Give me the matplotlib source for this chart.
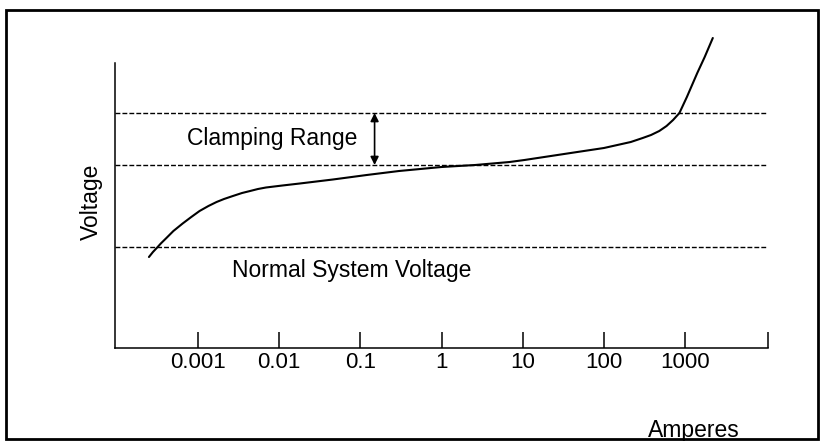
import matplotlib
matplotlib.use("Agg")
import matplotlib.pyplot as plt
from matplotlib.patches import Rectangle

# ---- data ----
amperes = [0.00025, 0.00028, 0.00032, 0.00035, 0.00041, 0.00050, 0.00065, 0.00083,
           0.00105, 0.00135, 0.0017, 0.0021, 0.0027, 0.0035, 0.0044, 0.0055,
           0.0069, 0.011, 0.018, 0.046, 0.12, 0.30, 1.0, 2.6, 6.9, 10.5, 47,
           100, 214, 300, 380, 480, 590, 710, 850, 1050, 1410, 1740, 2190]
voltage = [91, 96, 101, 104.5, 110, 117, 124.5, 131,
           137, 142, 146, 149, 152, 155, 157, 159,
           160.5, 162.5, 164.5, 168.5, 173, 177, 181, 183, 186, 188, 196,
           200, 206, 210, 213, 217, 222, 228, 235, 251, 275, 291, 310]
normal_level = 101
clamp_low = 183
clamp_high = 235
tick_values = [0.001, 0.01, 0.1, 1, 10, 100, 1000]
tick_labels = ["0.001", "0.01", "0.1", "1", "10", "100", "1000"]
x_min, x_max = 10 ** -4.02, 10 ** 4.02
arrow_x = 0.15

plt.rcParams['font.family'] = ['Liberation Sans', 'DejaVu Sans']

W, H = 824, 441
fig = plt.figure(figsize=(W / 100, H / 100), dpi=100)

# outer frame
fig.patches.append(Rectangle((6 / W, 2 / H), 812 / W, 429 / H, transform=fig.transFigure,
                             fill=False, edgecolor='black', linewidth=2.0))

ax = fig.add_axes([115 / W, (H - 348) / H, (768 - 115) / W, (348 - 38) / H])
ax.set_xscale('log')
ax.set_xlim(x_min, x_max)
ax.set_ylim(0, 310)

for s in ['top', 'right']:
    ax.spines[s].set_visible(False)
ax.spines['left'].set_bounds(0, 285)
ax.spines['left'].set_linewidth(1.1)
ax.spines['bottom'].set_linewidth(1.1)

ax.set_xticks(tick_values + [x_max])
ax.set_xticklabels(tick_labels + [""], fontsize=16)
ax.minorticks_off()
ax.tick_params(axis='x', which='major', direction='in', length=11.5, width=1.1, pad=3)
ax.set_yticks([])

# dashed reference lines
for lvl in [clamp_high, clamp_low, normal_level]:
    ax.axhline(lvl, color='black', linewidth=1.0, linestyle=(0, (3.5, 1.5)))

# characteristic curve
ax.plot(amperes, voltage, color='black', linewidth=1.5, clip_on=False,
        solid_capstyle='round', solid_joinstyle='round')

# clamping range arrow
ax.annotate('', xy=(arrow_x, clamp_high), xytext=(arrow_x, clamp_low),
            arrowprops=dict(arrowstyle='<|-|>', color='black', lw=1.2,
                            mutation_scale=12, shrinkA=0, shrinkB=0))

ax.text(10 ** -2.09, 210, 'Clamping Range', fontsize=16.5, ha='center', va='center')
ax.text(10 ** -1.10, 78, 'Normal System Voltage', fontsize=16.5, ha='center', va='center')

fig.text(91 / W, 1 - 202 / H, 'Voltage', rotation=90, fontsize=16.5,
         ha='center', va='center')
fig.text(694 / W, 1 - 437 / H, 'Amperes', fontsize=16.5, ha='center', va='baseline')

fig.savefig('out.png', dpi=100)
